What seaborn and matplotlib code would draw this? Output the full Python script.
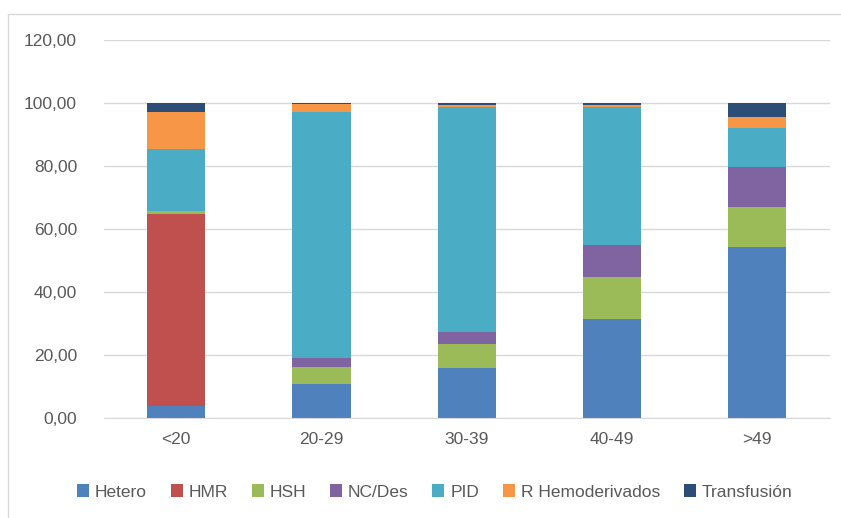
import pandas as pd
import matplotlib.pyplot as plt
import seaborn as sns
from matplotlib.patches import Rectangle

grupos = ['<20', '20-29', '30-39', '40-49', '>49']
categorias = ['Hetero', 'HMR', 'HSH', 'NC/Des', 'PID', 'R Hemoderivados', 'Transfusión']

hetero = [3.9, 10.9, 15.9, 31.4, 54.4]
hmr = [60.8, 0.0, 0.0, 0.0, 0.0]
hsh = [1.0, 5.3, 7.5, 13.3, 12.6]
nc_des = [0.0, 2.9, 4.0, 10.1, 12.7]
pid = [19.7, 78.1, 71.3, 43.9, 12.3]
r_hemo = [11.8, 2.5, 0.7, 0.7, 3.5]
transfusion = [2.8, 0.3, 0.6, 0.6, 4.5]

colores = ['#4F81BD', '#C0504D', '#9BBB59', '#8064A2', '#4BACC6', '#F79646', '#2C4D75']

df = pd.DataFrame({'Grupo': grupos, 'Hetero': hetero, 'HMR': hmr, 'HSH': hsh,
                   'NC/Des': nc_des, 'PID': pid, 'R Hemoderivados': r_hemo,
                   'Transfusión': transfusion})

sns.set_style('white')
plt.rcParams['font.family'] = ['Liberation Sans', 'DejaVu Sans']
gris = '#595959'

fig = plt.figure(figsize=(8.41, 5.18), dpi=100)
ax = fig.add_axes([103.5 / 841, 1 - 418 / 518, (830 - 103.5) / 841, (418 - 40) / 518])

base = pd.Series([0.0] * len(grupos))
for cat, col in zip(categorias, colores):
    sns.barplot(x='Grupo', y=cat, data=df, color=col, bottom=base.values, saturation=1,
                width=0.4, ax=ax, label=cat, edgecolor='none', linewidth=0)
    base = base + df[cat]

ax.set_ylim(0, 120)
ax.set_yticks(range(0, 121, 20))
ax.set_yticklabels([f'{v},00' for v in range(0, 121, 20)])
ax.yaxis.grid(True, color='#D9D9D9', linewidth=1)
ax.set_axisbelow(True)
for s in ['top', 'right', 'left']:
    ax.spines[s].set_visible(False)
ax.spines['bottom'].set_color('#D9D9D9')
ax.tick_params(axis='both', length=0, labelsize=12.5, colors=gris)
ax.tick_params(axis='y', pad=19)
ax.tick_params(axis='x', pad=10)
ax.set_xlabel('')
ax.set_ylabel('')
if ax.legend_:
    ax.legend_.remove()

handles, labels = ax.get_legend_handles_labels()
leg = fig.legend(handles, labels, loc='center', bbox_to_anchor=(0.517, 1 - 492 / 518),
                 ncol=7, frameon=False, fontsize=12.5, handlelength=0.7, handleheight=0.7,
                 handletextpad=0.35, columnspacing=1.35)
for t in leg.get_texts():
    t.set_color(gris)

fig.patches.append(Rectangle((8 / 841, -0.1), 1.2, 1 - 14 / 518 + 0.1, transform=fig.transFigure,
                             fill=False, edgecolor='#D9D9D9', linewidth=1))

fig.savefig('out.png', dpi=100)
